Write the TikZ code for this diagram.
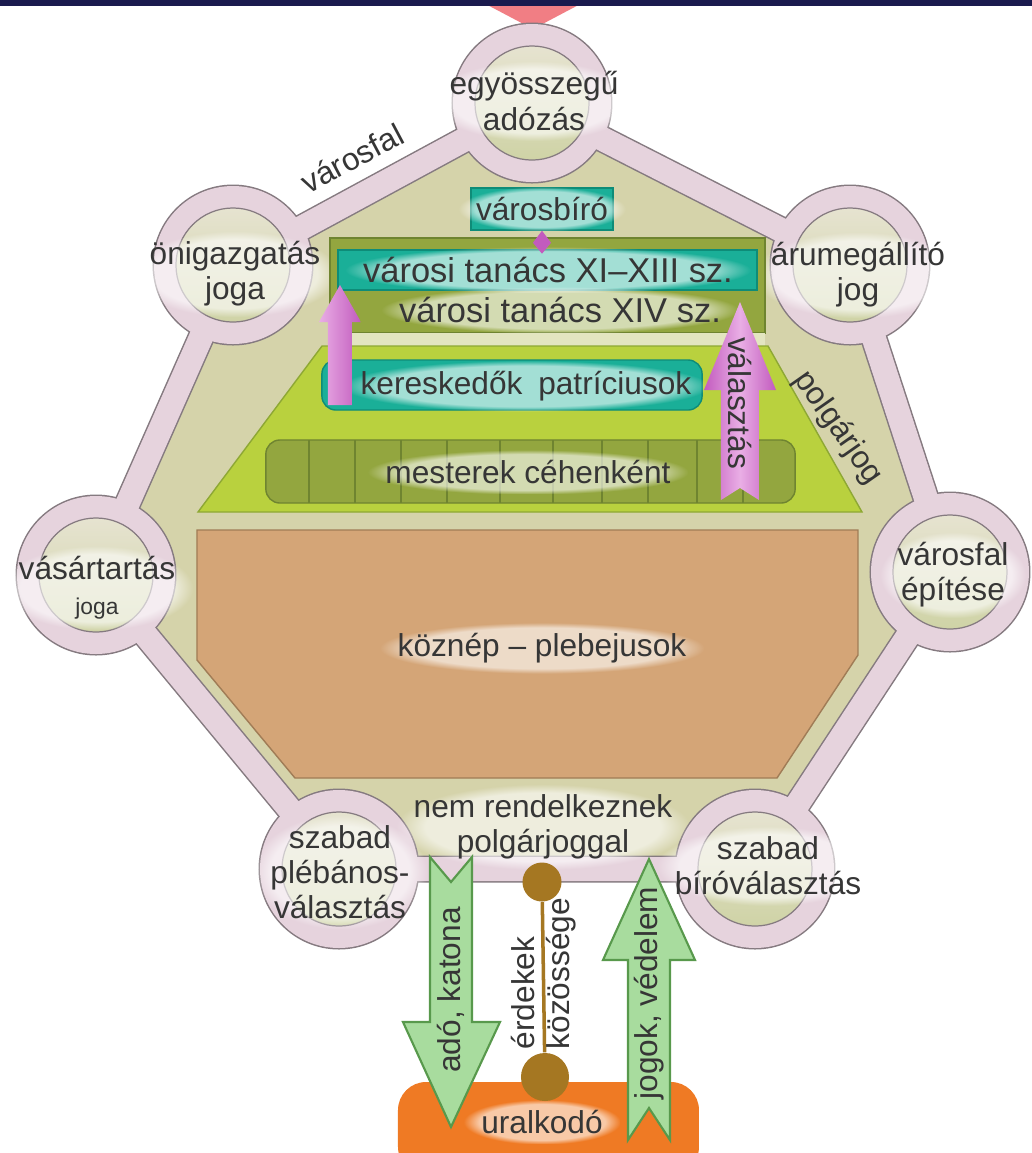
\documentclass[tikz,border=0pt]{standalone}
\usepackage{fontspec}
\setmainfont{Liberation Sans}
\usetikzlibrary{calc,fadings}

\definecolor{navy}{HTML}{1A1A4E}
\definecolor{toppink}{HTML}{F17E84}
\definecolor{wallpink}{HTML}{E6D3DD}
\definecolor{wallline}{HTML}{857A80}
\definecolor{khaki}{HTML}{D5D3AA}
\definecolor{gatetop}{HTML}{E6E3D0}
\definecolor{gatebot}{HTML}{CFD3A6}
\definecolor{teal}{HTML}{1AAF98}
\definecolor{tealdark}{HTML}{0E8C78}
\definecolor{olive}{HTML}{93A63F}
\definecolor{olivedark}{HTML}{6F8430}
\definecolor{pale}{HTML}{E3E5C0}
\definecolor{lime}{HTML}{B9D13E}
\definecolor{limedark}{HTML}{8EA834}
\definecolor{clay}{HTML}{D4A577}
\definecolor{claydark}{HTML}{A07C56}
\definecolor{mauve}{HTML}{C25BBE}
\definecolor{mauvelight}{HTML}{E9AEE5}
\definecolor{leaf}{HTML}{A8DC9E}
\definecolor{leafdark}{HTML}{58994C}
\definecolor{ochre}{HTML}{A57722}
\definecolor{carrot}{HTML}{EF7A24}
\definecolor{ink}{HTML}{363636}

\newcommand{\lblfont}{\fontsize{9}{10}\selectfont}
\newcommand{\cnclfont}{\fontsize{9.8}{11}\selectfont}

\tikzset{
	gate/.style={circle, draw=wallline, line width=0.35pt, minimum size=1.14cm, inner sep=0pt, top color=gatetop, bottom color=gatebot},
	lbl/.style={text=ink, font=\lblfont, align=center, inner sep=0pt},
	glow/.style={lbl, inner xsep=5pt, inner ysep=3pt, preaction={fill=white, fill opacity=0.6, path fading=circle with fuzzy edge 20 percent}},
	bar/.style={draw=tealdark, line width=0.4pt, fill=teal, inner sep=0pt},
	oliveblock/.style={draw=olivedark, line width=0.4pt, fill=olive, inner sep=0pt},
	blockarrow/.style={fill=leaf, draw=leafdark, line width=0.6pt},
}

\begin{document}
\begin{tikzpicture}[x=0.01cm, y=-0.01cm]
	\useasboundingbox (0,0) rectangle (1032,1153);
	\fill[white] (0,0) rectangle (1032,1153);

	\fill[toppink] (478,0) -- (588,0) -- (533,29) -- cycle;
	\fill[navy] (0,0) rectangle (1032,6);

	\coordinate (pTop) at (532,103);
	\coordinate (pUR) at (850,265);
	\coordinate (pR) at (950,572);
	\coordinate (pBR) at (755,869);
	\coordinate (pBL) at (339,869);
	\coordinate (pL) at (96,575);
	\coordinate (pUL) at (233,265);

	% city wall
	\fill[khaki] (pTop) -- (pUR) -- (pR) -- (pBR) -- (pBL) -- (pL) -- (pUL) -- cycle;
	\draw[wallline, line width=2.7mm] (pTop) -- (pUR) -- (pR) -- (pBR) -- (pBL) -- (pL) -- (pUL) -- cycle;
	\foreach \p in {pTop,pUR,pR,pBR,pBL,pL,pUL}
		\fill[wallline] (\p) circle [radius=80.5];
	\draw[wallpink, line width=2.4mm] (pTop) -- (pUR) -- (pR) -- (pBR) -- (pBL) -- (pL) -- (pUL) -- cycle;
	\foreach \p in {pTop,pUR,pR,pBR,pBL,pL,pUL}
		\fill[wallpink] (\p) circle [radius=79];

	\node[gate] (tax) at (pTop) {};
	\node[gate] (staple) at (pUR) {};
	\node[gate] (wallbuild) at (pR) {};
	\node[gate] (judgesel) at (pBR) {};
	\node[gate] (priest) at (pBL) {};
	\node[gate] (market) at (pL) {};
	\node[gate] (selfgov) at (pUL) {};

	\node[glow] (taxT) at (534,101) {egyösszegű\\adózás};
	\node[glow] (stapleT) at (858,275) {árumegállító\\jog};
	\node[glow] (wallbuildT) at (953,575) {városfal\\építése};
	\node[glow] (judgeselT) at (768,866) {szabad\\bíróválasztás};
	\node[glow] (priestT) at (340,872) {szabad\\plébános-\\választás};
	\node[glow] (marketT) at (97,588) {vásártartás\\{\fontsize{6.5}{7}\selectfont joga}};
	\node[glow] (selfgovT) at (235,274) {önigazgatás\\joga};

	\node[lbl, rotate=28] (wallT) at (352,158) {városfal};

	% council
	\node[bar, minimum width=1.42cm, minimum height=0.42cm] (judge) at (542,209) {};
	\node[glow] (judgeT) at (judge) {városbíró};
	\node[oliveblock, minimum width=4.35cm, minimum height=0.95cm] (council) at (547.5,285.5) {};
	\node[bar, minimum width=4.19cm, minimum height=0.40cm] (oldcouncil) at (547.5,270) {};
	\node[glow, font=\cnclfont] (oldcouncilT) at (548,270) {városi tanács XI–XIII sz.};
	\node[glow, font=\cnclfont] (newcouncil) at (560,310) {városi tanács XIV sz.};
	\fill[mauve] (judge.south) -- ++(9,12) -- ++(-9,11) -- ++(-9,-11) -- cycle;

	\fill[pale] (330,333) rectangle (765,346);
	\filldraw[fill=lime, draw=limedark, line width=0.4pt] (322,346) -- (768,346) -- (862,512) -- (198,512) -- cycle;
	\node[lbl, rotate=-55] (civicT) at (838,428) {polgárjog};

	\node[bar, rounded corners=4pt, minimum width=3.80cm, minimum height=0.50cm] (merchants) at (512,385) {};
	\node[glow] (merchantsT) at (526,386) {kereskedők\hspace{0.5em}patríciusok};
	\shade[left color=mauvelight, right color=mauve] (340,285) -- (361,322) -- (352,322) -- (352,405) -- (328,405) -- (328,322) -- (319,322) -- cycle;

	\node[oliveblock, rounded corners=4pt, minimum width=5.29cm, minimum height=0.63cm] (masters) at (530.5,471.5) {};
	\foreach \x in {309,355,401,447,500,553,602,648,697,743}
		\draw[olivedark, line width=0.4pt] (\x,440) -- (\x,503);
	\node[glow] (mastersT) at (528,472) {mesterek céhenként};

	\shade[left color=mauve, right color=mauve, middle color=mauvelight] (740,302) -- (776,390) -- (759,390) -- (759,500) -- (740,488) -- (721,500) -- (721,390) -- (704,390) -- cycle;
	\node[lbl, rotate=-90] (electT) at (740,403) {választás};

	% commons
	\filldraw[fill=clay, draw=claydark, line width=0.4pt] (197,530) -- (858,530) -- (858,655) -- (777,778) -- (295,778) -- (197,660) -- cycle;
	\node[glow] (commons) at (542,648) {köznép – plebejusok};
	\node[glow] (nocivic) at (543,827) {nem rendelkeznek\\polgárjoggal};

	% ruler
	\fill[carrot, rounded corners=8pt] (398,1082) rectangle (699,1175);
	\node[glow] (ruler) at (542,1122) {uralkodó};

	\node[circle, fill=ochre, minimum size=0.39cm, inner sep=0pt] (bondtop) at (542,882) {};
	\node[circle, fill=ochre, minimum size=0.48cm, inner sep=0pt] (bondbot) at (545,1077) {};
	\draw[ochre, line width=1pt] (bondtop) -- (bondbot);
	\node[lbl, rotate=90, anchor=west, align=left] (bondT) at (544,1050) {érdekek\\közössége};

	\filldraw[blockarrow] (430,857) -- (451,882) -- (472,857) -- (472,1022) -- (500,1022) -- (451,1127) -- (403,1022) -- (430,1022) -- cycle;
	\node[lbl, rotate=90] (taxarmyT) at (451,990) {adó, katona};
	\filldraw[blockarrow] (649,859) -- (695,960) -- (670,960) -- (670,1140) -- (649,1108) -- (628,1140) -- (628,960) -- (603,960) -- cycle;
	\node[lbl, rotate=90] (rightsT) at (649,993) {jogok, védelem};
\end{tikzpicture}
\end{document}
